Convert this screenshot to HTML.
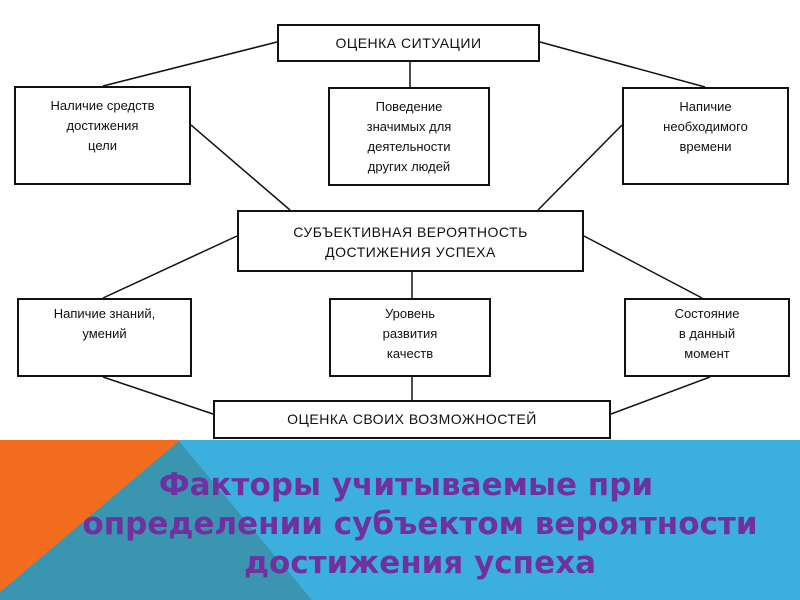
<!DOCTYPE html>
<html><head><meta charset="utf-8"><style>
body{margin:0;width:800px;height:600px;overflow:hidden;background:#fff;font-family:"Liberation Sans",sans-serif;position:relative}
.b{position:absolute;border:2px solid #111;box-sizing:border-box;text-align:center;font-size:13px;color:#111;line-height:20px}
.t{font-size:14px;letter-spacing:0.5px}
</style></head><body>
<svg width="800" height="600" style="position:absolute;left:0;top:0">
<g stroke="#111" stroke-width="1.5" fill="none">
<line x1="277" y1="42" x2="103" y2="86"/>
<line x1="540" y1="42" x2="705" y2="87"/>
<line x1="410" y1="61" x2="410" y2="87"/>
<line x1="191" y1="125" x2="290" y2="210"/>
<line x1="622" y1="125" x2="538" y2="210"/>
<line x1="237" y1="236" x2="103" y2="298"/>
<line x1="584" y1="236" x2="702" y2="298"/>
<line x1="412" y1="272" x2="412" y2="298"/>
<line x1="103" y1="377" x2="213" y2="414"/>
<line x1="710" y1="377" x2="611" y2="414"/>
<line x1="412" y1="377" x2="412" y2="400"/>
</g>
<rect x="0" y="440" width="800" height="160" fill="#3bb0de"/>
<polygon points="178,440 312,600 0,600 0,590" fill="#3a95b0"/>
<polygon points="0,440 180,440 0,592" fill="#f46d1f"/>
</svg>
<div class="b t" style="left:277px;top:24px;width:263px;height:38px;line-height:34px">ОЦЕНКА СИТУАЦИИ</div>
<div class="b" style="left:14px;top:86px;width:177px;height:99px;padding-top:8px">Наличие средств<br>достижения<br>цели</div>
<div class="b" style="left:328px;top:87px;width:162px;height:99px;padding-top:8px">Поведение<br>значимых для<br>деятельности<br>других людей</div>
<div class="b" style="left:622px;top:87px;width:167px;height:98px;padding-top:8px">Напичие<br>необходимого<br>времени</div>
<div class="b t" style="left:237px;top:210px;width:347px;height:62px;padding-top:10px">СУБЪЕКТИВНАЯ ВЕРОЯТНОСТЬ<br>ДОСТИЖЕНИЯ УСПЕХА</div>
<div class="b" style="left:17px;top:298px;width:175px;height:79px;padding-top:4px">Напичие знаний,<br>умений</div>
<div class="b" style="left:329px;top:298px;width:162px;height:79px;padding-top:4px">Уровень<br>развития<br>качеств</div>
<div class="b" style="left:624px;top:298px;width:166px;height:79px;padding-top:4px">Состояние<br>в данный<br>момент</div>
<div class="b t" style="left:213px;top:400px;width:398px;height:39px;line-height:35px">ОЦЕНКА СВОИХ ВОЗМОЖНОСТЕЙ</div>
<div style="position:absolute;left:30px;top:466px;width:780px;text-align:center;color:#7030a0;font-family:'DejaVu Sans',sans-serif;font-weight:bold;font-size:31px;line-height:39px;white-space:nowrap"><span style="position:relative;left:-14px">Факторы учитываемые при</span><br>определении субъектом вероятности<br>достижения успеха</div>
</body></html>
